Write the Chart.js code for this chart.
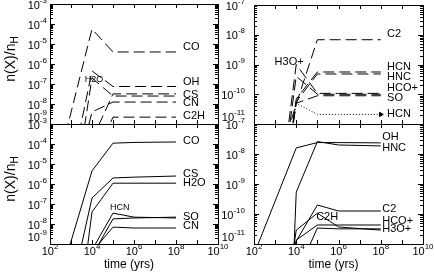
<!DOCTYPE html>
<html>
<head>
<meta charset="utf-8">
<script src="https://cdn.jsdelivr.net/npm/chart.js@4.4.1/dist/chart.umd.min.js"></script>
<style>
  html, body { margin: 0; padding: 0; background: #fff; }
  #wrap { position: relative; width: 434px; height: 274px; }
  #wrap canvas { position: absolute; left: 0; top: 0; }
</style>
</head>
<body>
<div id="wrap">
  <canvas id="tl" width="434" height="274"></canvas>
  <canvas id="tr" width="434" height="274"></canvas>
  <canvas id="bl" width="434" height="274"></canvas>
  <canvas id="br" width="434" height="274"></canvas>
</div>
<script>
// time grid (yrs)
const times = [1e2, 1e4, 1e5, 1e6, 1e8];

// upper left panel (dashed)
const tlCO  = [2.5e-13, 5.6e-5, 4.0e-6, 4.0e-6, 4.0e-6];
const tlOH  = [3.0e-17, 4.5e-7, 7.5e-8, 7.5e-8, 7.5e-8];
const tlH2O = [6.0e-21, 2.0e-7, 2.5e-8, 2.5e-8, 2.5e-8];
const tlCS  = [1.0e-15, 1.6e-10, 3.2e-8, 3.2e-8, 3.2e-8];
const tlCN  = [1.6e-17, 4.0e-9, 1.25e-8, 1.25e-8, 1.25e-8];
const tlC2H = [1.0e-18, 1.0e-11, 2.2e-9, 2.2e-9, 2.2e-9];

// upper right panel (dashed, HCN dotted)
const trC2   = [1.1e-15, 4.7e-11, 6.8e-9, 6.8e-9, 6.8e-9];
const trHCN  = [1.0e-20, 7.0e-11, 5.6e-10, 5.6e-10, 5.6e-10];
const trHNC  = [1.0e-20, 5.6e-11, 4.8e-10, 4.8e-10, 4.8e-10];
const trHCOp = [1.0e-20, 4.0e-10, 1.0e-10, 1.0e-10, 1.0e-10];
const trSO   = [1.0e-20, 5.0e-11, 8.9e-11, 8.9e-11, 8.9e-11];
const trH3Op = [1.0e-20, 1.0e-9, 1.07e-10, 1.07e-10, 1.07e-10];
const trHCNd = [1.0e-20, 5.0e-11, 2.1e-11, 2.1e-11, 2.1e-11];

// lower left panel (solid)
const blCO  = [4.0e-13, 4.5e-6, 1.1e-4, 1.2e-4, 1.26e-4];
const blCS  = [8.0e-17, 2.0e-7, 2.0e-6, 2.2e-6, 2.5e-6];
const blH2O = [2.5e-24, 4.0e-8, 1.1e-6, 1.1e-6, 1.1e-6];
const blHCN = [1.0e-20, 5.0e-10, 3.5e-8, 2.2e-8, 2.0e-8];
const blSO  = [1.0e-20, 2.5e-10, 1.8e-8, 2.0e-8, 2.2e-8];
const blCN  = [1.0e-20, 4.0e-10, 7.0e-9, 6.3e-9, 6.3e-9];

// lower right panel (solid)
const brOH   = [4.5e-12, 1.6e-8, 2.4e-8, 2.4e-8, 2.35e-8];
const brHNC  = [1.0e-44, 5.4e-10, 2.6e-8, 2.0e-8, 1.86e-8];
const brC2   = [1.0e-20, 1.25e-11, 2.0e-10, 1.26e-10, 1.26e-10];
const brC2H  = [1.0e-20, 2.9e-11, 1.07e-10, 3.7e-11, 2.9e-11];
const brHCOp = [1.0e-20, 1.35e-11, 4.3e-11, 4.3e-11, 4.3e-11];
const brH3Op = [1.0e-20, 9.0e-13, 3.4e-11, 3.2e-11, 3.2e-11];

const FONT = '"Liberation Sans Narrow", "Liberation Sans", Arial, sans-serif';
const DASH = [11, 5];

// draws 10^exp; x is right edge or centre
function drawPow(ctx, x, y, exp, align) {
  const e = String(exp);
  ctx.font = '11px ' + FONT;
  const w1 = ctx.measureText('10').width;
  ctx.font = '8px ' + FONT;
  const w2 = ctx.measureText(e).width;
  const left = align === 'right' ? x - w1 - w2 : x - (w1 + w2) / 2;
  ctx.textAlign = 'left';
  ctx.textBaseline = 'middle';
  ctx.font = '11px ' + FONT;
  ctx.fillText('10', left, y);
  ctx.font = '8px ' + FONT;
  ctx.fillText(e, left + w1, y - 5);
}

const idlFrame = {
  id: 'idlFrame',
  afterDraw(chart, args, o) {
    const { ctx, chartArea: a, scales: { x, y } } = chart;
    const yLo = Math.round(Math.log10(y.min)), yHi = Math.round(Math.log10(y.max));
    ctx.save();
    ctx.strokeStyle = '#000';
    ctx.fillStyle = '#000';
    ctx.lineWidth = 1;
    ctx.strokeRect(a.left + 0.5, a.top + 0.5, a.right - a.left, a.bottom - a.top);

    // inward ticks
    ctx.beginPath();
    for (let e = 2; e <= 10; e++) {
      const px = Math.round(x.getPixelForValue(10 ** e)) + 0.5;
      ctx.moveTo(px, a.bottom); ctx.lineTo(px, a.bottom - 4);
      ctx.moveTo(px, a.top); ctx.lineTo(px, a.top + 4);
    }
    for (let e = yLo; e < yHi; e++) {
      for (let m = 1; m <= 9; m++) {
        const py = Math.round(y.getPixelForValue(m * 10 ** e)) + 0.5;
        const len = m === 1 ? 5 : 3;
        ctx.moveTo(a.left, py); ctx.lineTo(a.left + len, py);
        ctx.moveTo(a.right, py); ctx.lineTo(a.right - len, py);
      }
    }
    ctx.stroke();

    // y tick labels
    for (let e = yLo; e <= yHi; e++) {
      const py = y.getPixelForValue(10 ** e);
      drawPow(ctx, a.left - o.yLabGap, e === yLo ? py - 6 : py + 1.5, e, 'right');
    }
    // x tick labels
    if (o.xLabels) {
      for (let e = 2; e <= 10; e += 2) {
        drawPow(ctx, x.getPixelForValue(10 ** e), a.bottom + 8, e, 'centre');
      }
      ctx.font = '12px ' + FONT;
      ctx.textAlign = 'center';
      ctx.textBaseline = 'middle';
      ctx.fillText('time (yrs)', (a.left + a.right) / 2 - 5, a.bottom + 21);
    }
    // y title n(X)/n_H
    if (o.yTitle) {
      const cy = (a.top + a.bottom) / 2 - 5;
      ctx.translate(11, cy);
      ctx.rotate(-Math.PI / 2);
      ctx.font = '14px ' + FONT;
      const w1 = ctx.measureText('n(X)/n').width;
      ctx.font = '10px ' + FONT;
      const w2 = ctx.measureText('H').width;
      ctx.textAlign = 'left';
      ctx.textBaseline = 'middle';
      ctx.font = '14px ' + FONT;
      ctx.fillText('n(X)/n', -(w1 + w2) / 2, 0);
      ctx.font = '10px ' + FONT;
      ctx.fillText('H', -(w1 + w2) / 2 + w1, 4);
      ctx.setTransform(1, 0, 0, 1, 0, 0);
    }
    // species labels
    ctx.textBaseline = 'middle';
    for (const l of o.labels) {
      ctx.font = (l.size || 11) + 'px ' + FONT;
      ctx.textAlign = l.align || 'left';
      ctx.fillText(l.text, x.getPixelForValue(l.t), y.getPixelForValue(l.v));
    }
    ctx.restore();
  }
};

function makePanel(id, series, ymin, ymax, pad, frame) {
  return new Chart(document.getElementById(id), {
    type: 'line',
    data: {
      datasets: series.map(s => ({
        label: s.name,
        data: times.map((t, i) => ({ x: t, y: s.values[i] })),
        borderColor: '#000',
        borderWidth: 1,
        borderDash: s.dash || [],
        pointRadius: s.arrow ? [0, 0, 0, 0, 2.5] : 0,
        pointStyle: 'triangle',
        rotation: 90,
        pointBackgroundColor: '#000',
        pointBorderColor: '#000',
        tension: 0,
        fill: false
      }))
    },
    options: {
      responsive: false,
      animation: false,
      events: [],
      layout: { padding: pad },
      plugins: {
        legend: { display: false },
        tooltip: { enabled: false },
        idlFrame: frame
      },
      scales: {
        x: { type: 'logarithmic', display: false, min: 1e2, max: 1e10 },
        y: { type: 'logarithmic', display: false, min: ymin, max: ymax }
      }
    },
    plugins: [idlFrame]
  });
}

makePanel('tl', [
  { name: 'CO', values: tlCO, dash: DASH },
  { name: 'OH', values: tlOH, dash: DASH },
  { name: 'H2O', values: tlH2O, dash: DASH },
  { name: 'CS', values: tlCS, dash: DASH },
  { name: 'CN', values: tlCN, dash: DASH },
  { name: 'C2H', values: tlC2H, dash: DASH }
], 1e-9, 1e-3, { left: 50, right: 216, top: 4, bottom: 150 }, {
  yLabGap: 3, yTitle: true, xLabels: false,
  labels: [
    { text: 'CO', t: 2.14e8, v: 7.1e-6 },
    { text: 'OH', t: 2.14e8, v: 1.26e-7 },
    { text: 'CS', t: 2.14e8, v: 2.8e-8 },
    { text: 'CN', t: 2.14e8, v: 1.1e-8 },
    { text: 'C2H', t: 2.14e8, v: 2.5e-9 },
    { text: 'H2O', t: 1.26e4, v: 1.6e-7, size: 9, align: 'center' }
  ]
});

makePanel('tr', [
  { name: 'C2', values: trC2, dash: DASH },
  { name: 'HCN', values: trHCN, dash: DASH },
  { name: 'HNC', values: trHNC, dash: DASH },
  { name: 'HCO+', values: trHCOp, dash: DASH },
  { name: 'SO', values: trSO, dash: DASH },
  { name: 'H3O+', values: trH3Op, dash: DASH },
  { name: 'HCN', values: trHCNd, dash: [1, 2], arrow: true }
], 1e-11, 1e-7, { left: 254, right: 11, top: 4, bottom: 150 }, {
  yLabGap: 9, yTitle: false, xLabels: false,
  labels: [
    { text: 'C2', t: 2e8, v: 1.07e-8 },
    { text: 'HCN', t: 2e8, v: 8.5e-10 },
    { text: 'HNC', t: 2e8, v: 3.7e-10 },
    { text: 'HCO+', t: 2e8, v: 1.6e-10 },
    { text: 'SO', t: 2e8, v: 7.4e-11 },
    { text: 'HCN', t: 2e8, v: 2.1e-11 },
    { text: 'H3O+', t: 4.6e3, v: 1.26e-9, align: 'center' }
  ]
});

makePanel('bl', [
  { name: 'CO', values: blCO },
  { name: 'CS', values: blCS },
  { name: 'H2O', values: blH2O },
  { name: 'HCN', values: blHCN },
  { name: 'SO', values: blSO },
  { name: 'CN', values: blCN }
], 1e-9, 1e-3, { left: 50, right: 216, top: 124, bottom: 30 }, {
  yLabGap: 3, yTitle: true, xLabels: true,
  labels: [
    { text: 'CO', t: 2.14e8, v: 1.4e-4 },
    { text: 'CS', t: 2.14e8, v: 3.2e-6 },
    { text: 'H2O', t: 2.14e8, v: 1.1e-6 },
    { text: 'SO', t: 2.14e8, v: 2.2e-8 },
    { text: 'CN', t: 2.14e8, v: 7.9e-9 },
    { text: 'HCN', t: 2.1e5, v: 6.3e-8, size: 9, align: 'center' }
  ]
});

makePanel('br', [
  { name: 'OH', values: brOH },
  { name: 'HNC', values: brHNC },
  { name: 'C2', values: brC2 },
  { name: 'C2H', values: brC2H },
  { name: 'HCO+', values: brHCOp },
  { name: 'H3O+', values: brH3Op }
], 1e-11, 1e-7, { left: 254, right: 11, top: 124, bottom: 30 }, {
  yLabGap: 9, yTitle: false, xLabels: true,
  labels: [
    { text: 'OH', t: 1.17e8, v: 3.7e-8 },
    { text: 'HNC', t: 1.17e8, v: 1.6e-8 },
    { text: 'C2', t: 1.17e8, v: 1.5e-10 },
    { text: 'HCO+', t: 1.17e8, v: 5.9e-11 },
    { text: 'H3O+', t: 1.17e8, v: 3.2e-11 },
    { text: 'C2H', t: 2.9e5, v: 7.9e-11, align: 'center' }
  ]
});
</script>
</body>
</html>
